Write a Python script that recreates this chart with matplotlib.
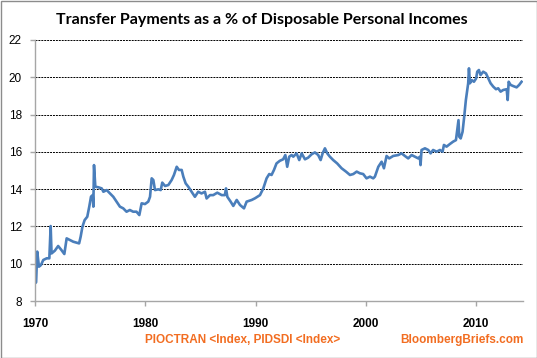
import numpy as np
import matplotlib
matplotlib.use("Agg")
import matplotlib.pyplot as plt
from matplotlib.patches import Rectangle

plt.rcParams["font.family"] = ["Liberation Sans", "DejaVu Sans"]

# ── data (year, % of disposable personal income) ──
years = [1970.0, 1970.1, 1970.2, 1970.36, 1970.54, 1970.75, 1971.06, 1971.3, 1971.42, 1971.5,
         1971.8, 1972.1, 1972.4, 1972.66, 1972.87, 1973.17, 1973.47, 1973.78, 1974.0, 1974.14,
         1974.3, 1974.5, 1974.74, 1974.92, 1975.08, 1975.23, 1975.29, 1975.35, 1975.47, 1975.74,
         1976.05, 1976.2, 1976.5, 1976.8, 1977.1, 1977.4, 1977.7, 1978.0, 1978.3, 1978.6,
         1978.9, 1979.2, 1979.46, 1979.67, 1979.97, 1980.27, 1980.43, 1980.58, 1980.73, 1980.88,
         1981.18, 1981.4, 1981.54, 1981.79, 1982.09, 1982.39, 1982.6, 1982.85, 1983.05, 1983.3,
         1983.45, 1983.66, 1983.9, 1984.2, 1984.5, 1984.8, 1985.1, 1985.41, 1985.56, 1985.87,
         1986.16, 1986.53, 1986.93, 1987.22, 1987.32, 1987.44, 1987.74, 1987.98, 1988.29, 1988.59,
         1988.95, 1989.19, 1989.65, 1989.95, 1990.4, 1990.7, 1991.0, 1991.24, 1991.45, 1991.67,
         1991.9, 1992.2, 1992.5, 1992.7, 1992.87, 1993.05, 1993.27, 1993.42, 1993.72, 1993.96,
         1994.18, 1994.48, 1994.77, 1995.08, 1995.38, 1995.68, 1995.9, 1996.08, 1996.29, 1996.5,
         1996.74, 1997.04, 1997.4, 1997.8, 1998.2, 1998.56, 1998.86, 1999.17, 1999.46, 1999.76,
         2000.06, 2000.37, 2000.67, 2000.82, 2001.13, 2001.43, 2001.64, 2001.88, 2002.12, 2002.48,
         2002.94, 2003.24, 2003.54, 2003.84, 2004.15, 2004.45, 2004.75, 2004.9, 2004.96, 2005.05,
         2005.36, 2005.66, 2005.87, 2006.1, 2006.42, 2006.72, 2006.96, 2007.08, 2007.32, 2007.62,
         2007.92, 2008.17, 2008.32, 2008.4, 2008.47, 2008.6, 2008.77, 2008.92, 2009.07, 2009.2,
         2009.28, 2009.35, 2009.44, 2009.6, 2009.8, 2010.0, 2010.1, 2010.25, 2010.4, 2010.64,
         2010.89, 2011.1, 2011.31, 2011.55, 2011.8, 2012.0, 2012.22, 2012.46, 2012.77, 2012.86,
         2012.95, 2013.13, 2013.36, 2013.67, 2013.9, 2014.12]
share = [8.95, 9.0, 10.65, 9.84, 9.93, 10.2, 10.29, 10.29, 12.02, 10.55,
         10.7, 10.95, 10.73, 10.52, 11.36, 11.27, 11.18, 11.13, 11.09, 11.45,
         11.98, 12.34, 12.52, 13.06, 13.6, 13.68, 13.06, 15.29, 14.13, 14.1,
         14.04, 13.86, 13.95, 13.77, 13.59, 13.33, 13.06, 12.97, 12.79, 12.88,
         12.79, 12.79, 12.61, 13.24, 13.2, 13.33, 13.59, 14.58, 14.49, 13.95,
         13.99, 13.95, 14.35, 14.17, 14.22, 14.49, 14.76, 15.2, 15.03, 15.03,
         14.67, 14.31, 14.13, 13.86, 13.59, 13.86, 13.77, 13.86, 13.5, 13.68,
         13.68, 13.81, 13.68, 13.68, 14.04, 13.59, 13.33, 13.1, 13.42, 13.15,
         12.97, 13.33, 13.42, 13.51, 13.68, 14.04, 14.58, 14.81, 14.76, 15.03,
         15.38, 15.52, 15.6, 15.83, 15.2, 15.74, 15.83, 15.74, 15.92, 15.56,
         15.92, 15.6, 15.69, 15.87, 15.97, 15.83, 15.56, 15.92, 16.19, 15.92,
         15.74, 15.56, 15.38, 15.12, 14.94, 14.76, 14.81, 14.94, 14.85, 14.81,
         14.58, 14.67, 14.58, 14.67, 15.2, 15.47, 15.12, 15.78, 15.65, 15.78,
         15.83, 15.92, 15.78, 15.65, 15.83, 15.74, 15.65, 15.74, 15.29, 16.1,
         16.19, 16.1, 15.92, 16.1, 16.01, 16.1, 16.01, 16.37, 16.28, 16.42,
         16.55, 16.63, 17.35, 17.7, 16.81, 16.72, 17.08, 17.89, 18.78, 19.32,
         19.68, 20.48, 19.68, 19.85, 19.76, 19.94, 20.3, 20.39, 20.12, 20.3,
         20.21, 19.94, 19.68, 19.5, 19.36, 19.41, 19.23, 19.32, 19.36, 18.78,
         19.76, 19.59, 19.53, 19.46, 19.59, 19.76]

x_ticks = [1970, 1980, 1990, 2000, 2010]
y_ticks = [8, 10, 12, 14, 16, 18, 20, 22]

TITLE = "Transfer Payments as a % of Disposable Personal Incomes"
SOURCE = "PIOCTRAN <Index, PIDSDI <Index>"
BRAND = "BloombergBriefs.com"
ORANGE = "#F26D21"
GRAY = "#A6A6A6"

W, H = 537, 358
fig = plt.figure(figsize=(W/100, H/100), dpi=100)
ax = fig.add_axes([35/W, 1-301/H, (523-35)/W, (301-40)/H])

ax.plot(years, share, color="#4A7EBB", lw=1.9, solid_joinstyle="round")

ax.set_xlim(1970, 2014.25)
ax.set_ylim(8, 22)
ax.set_xticks(x_ticks)
ax.set_yticks(y_ticks)
ax.set_xticklabels([str(t) for t in x_ticks], fontweight="bold", fontsize=8.5)
ax.set_yticklabels([str(t) for t in y_ticks], fontsize=8.5)
for t in y_ticks[1:]:
    ax.axhline(t, color="black", lw=0.7, ls=(0, (2, 1)), zorder=0)

for s in ("top", "right"):
    ax.spines[s].set_visible(False)
for s in ("left", "bottom"):
    ax.spines[s].set_color(GRAY)
    ax.spines[s].set_linewidth(1.0)
ax.tick_params(axis="both", colors=GRAY, length=3.5, width=1.0, labelcolor="black")
ax.tick_params(axis="x", pad=9)
ax.tick_params(axis="y", pad=6)

fig.text(262/W, 1-20/H, TITLE, ha="center", va="center", fontsize=11.5,
         fontweight="bold", family=["Lato", "DejaVu Sans"])
fig.text(243/W, 1-340/H, SOURCE, ha="center", va="center", fontsize=8.5,
         fontweight="bold", color=ORANGE)
fig.text(524/W, 1-340/H, BRAND, ha="right", va="center", fontsize=8.5,
         fontweight="bold", color=ORANGE)

fig.add_artist(Rectangle((0.5/W, 0.5/H), 1-1/W, 1-1/H, transform=fig.transFigure,
                         fill=False, edgecolor="#8C8C8C", lw=1.0))

fig.savefig("out.png", dpi=100)
